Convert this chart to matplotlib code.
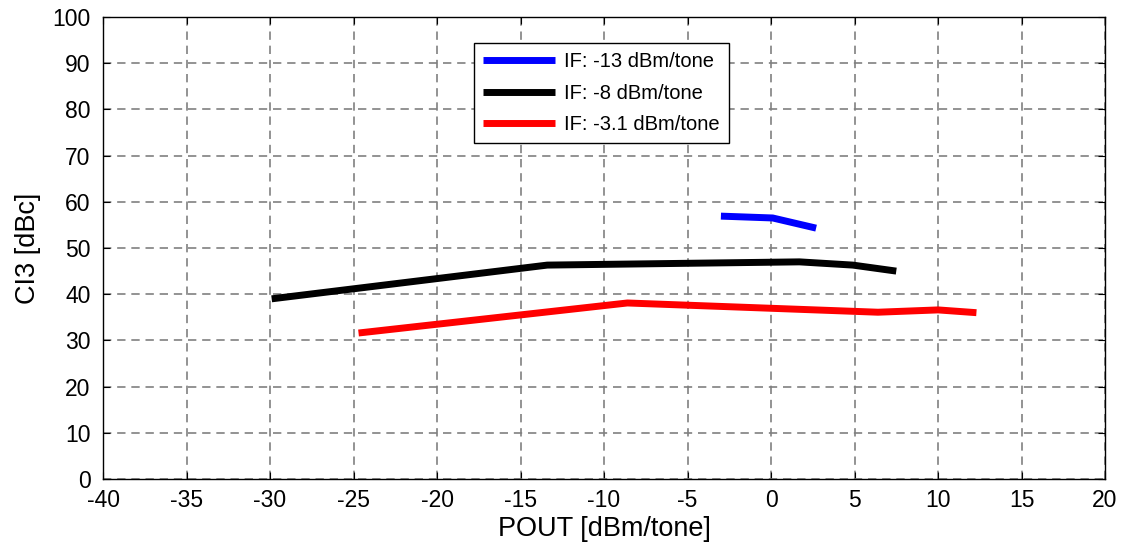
import matplotlib
matplotlib.use("Agg")
import matplotlib.pyplot as plt

plt.rcParams["font.family"] = ["Liberation Sans", "DejaVu Sans"]
plt.rcParams["axes.unicode_minus"] = False

# IF: -13 dBm/tone
pout_13 = [-3.0, 0.1, 2.7]
ci3_13 = [56.9, 56.5, 54.3]

# IF: -8 dBm/tone
pout_8 = [-29.9, -13.4, 1.7, 4.9, 7.5]
ci3_8 = [39.0, 46.3, 47.0, 46.3, 45.0]

# IF: -3.1 dBm/tone
pout_3 = [-24.7, -8.6, 6.4, 10.0, 12.3]
ci3_3 = [31.6, 38.1, 36.1, 36.6, 36.0]

labels = ["IF: -13 dBm/tone", "IF: -8 dBm/tone", "IF: -3.1 dBm/tone"]

fig = plt.figure(figsize=(11.27, 5.56), dpi=100)
ax = fig.add_axes([0.0914, 0.1385, 0.8891, 0.8309])

ax.plot(pout_13, ci3_13, color="#0000ff", lw=5, label=labels[0], solid_capstyle="butt")
ax.plot(pout_8, ci3_8, color="black", lw=5, label=labels[1], solid_capstyle="butt")
ax.plot(pout_3, ci3_3, color="#ff0000", lw=5, label=labels[2], solid_capstyle="butt")

ax.set_xlim(-40, 20)
ax.set_ylim(0, 100)
ax.set_xticks(range(-40, 21, 5))
ax.set_yticks(range(0, 101, 10))
ax.tick_params(direction="in", labelsize=16.5, length=5, top=True, right=True)
ax.tick_params(axis="x", pad=7)
ax.tick_params(axis="y", pad=9)
ax.grid(True, color="#808080", linestyle=(0, (5, 3.5)), linewidth=1.2)
for s in ax.spines.values():
    s.set_linewidth(1.0)

ax.set_xlabel("POUT [dBm/tone]", fontsize=19.5, labelpad=3)
ax.set_ylabel("CI3 [dBc]", fontsize=19.5, labelpad=8)

leg = ax.legend(loc="upper left", bbox_to_anchor=(0.37, 0.943), fontsize=14.5,
                frameon=True, fancybox=False, handlelength=3.6,
                borderpad=0.45, labelspacing=0.62, handletextpad=0.45,
                borderaxespad=0)
leg.get_frame().set_edgecolor("black")
leg.get_frame().set_linewidth(1.0)
leg.get_frame().set_alpha(1)

fig.savefig("out.png", dpi=100)
